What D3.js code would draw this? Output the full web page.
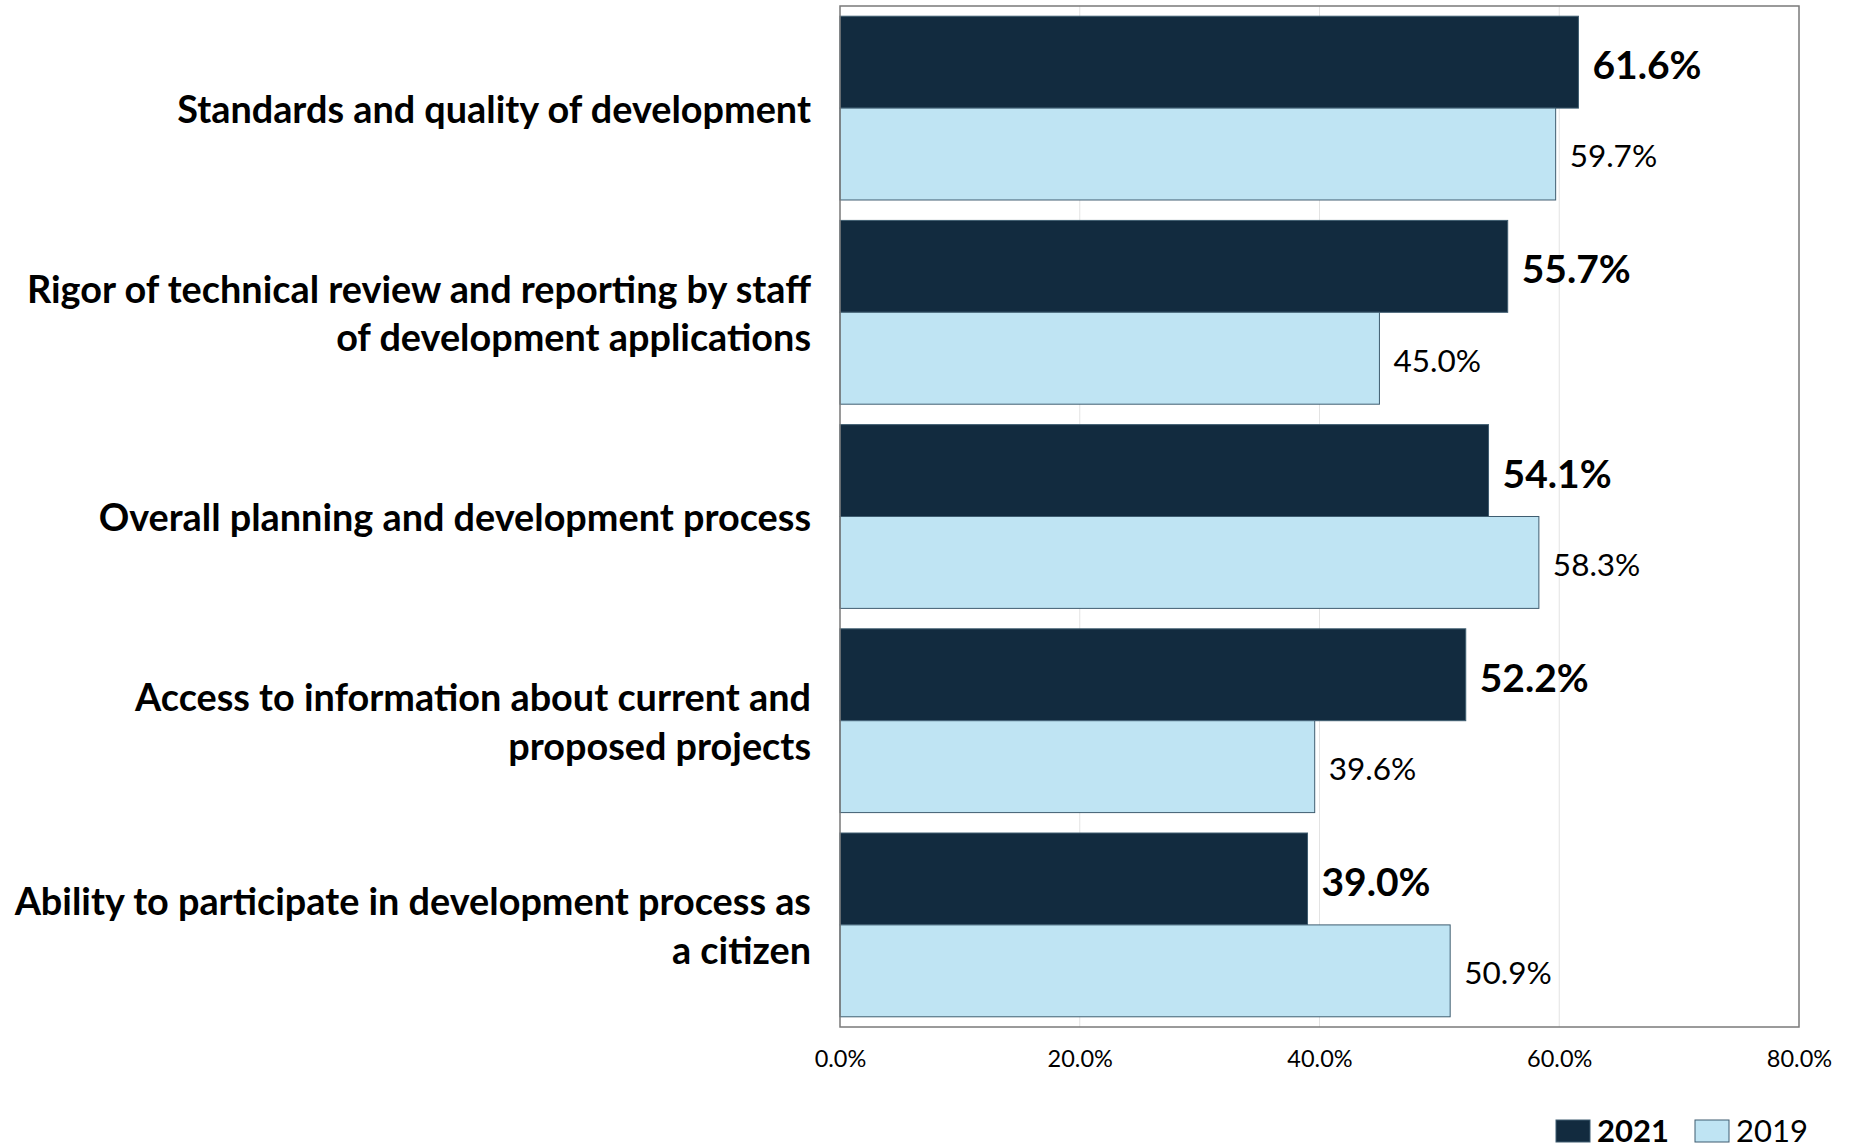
<!DOCTYPE html>
<html>
<head>
<meta charset="utf-8">
<script src="https://cdn.jsdelivr.net/npm/d3@7"></script>
<style>
  body { margin: 0; background: #fff; }
  svg { display: block; }
</style>
</head>
<body>
<div id="chart"></div>
<script>
// chart data
var categories = [
  ["Standards and quality of development"],
  ["Rigor of technical review and reporting by staff", "of development applications"],
  ["Overall planning and development process"],
  ["Access to information about current and", "proposed projects"],
  ["Ability to participate in development process as", "a citizen"]
];
var series = ["2021", "2019"];
var values2021 = [61.6, 55.7, 54.1, 52.2, 39.0];
var values2019 = [59.7, 45.0, 58.3, 39.6, 50.9];
var xTicks = [0, 20, 40, 60, 80];

var W = 1858, H = 1148;
var plotLeft = 840, plotRight = 1799, plotTop = 6, plotBottom = 1027;
var dark = "#122b3f", light = "#bfe4f3", barStroke = "#3f5d70";
var font = "Lato, 'Open Sans', sans-serif";

var svg = d3.select("#chart").append("svg")
    .attr("width", W)
    .attr("height", H);

var x = d3.scaleLinear().domain([0, 80]).range([plotLeft, plotRight]);
var y = d3.scaleBand().domain(d3.range(categories.length))
    .range([plotTop, plotBottom]).paddingInner(0.1).paddingOuter(0.05);
var ySub = d3.scaleBand().domain(series).range([0, y.bandwidth()]);

// gridlines
svg.append("g").selectAll("line")
    .data(xTicks.slice(1, -1))
    .enter().append("line")
    .attr("x1", function(d){ return x(d); })
    .attr("x2", function(d){ return x(d); })
    .attr("y1", plotTop).attr("y2", plotBottom)
    .style("stroke", "#e3e3e3")
    .style("stroke-width", 1);

var rows = categories.map(function(c, i){
  return {i: i, label: c, v2021: values2021[i], v2019: values2019[i]};
});

var group = svg.append("g").selectAll("g")
    .data(rows)
    .enter().append("g")
    .attr("transform", function(d){ return "translate(0," + y(d.i) + ")"; });

group.append("rect")
    .attr("x", x(0))
    .attr("y", ySub("2021"))
    .attr("width", function(d){ return x(d.v2021) - x(0); })
    .attr("height", ySub.bandwidth())
    .style("fill", dark)
    .style("stroke", barStroke)
    .style("stroke-width", 1);

group.append("rect")
    .attr("x", x(0))
    .attr("y", ySub("2019"))
    .attr("width", function(d){ return x(d.v2019) - x(0); })
    .attr("height", ySub.bandwidth())
    .style("fill", light)
    .style("stroke", barStroke)
    .style("stroke-width", 1);

// value labels
group.append("text")
    .attr("x", function(d){ return x(d.v2021) + 14; })
    .attr("y", ySub("2021") + ySub.bandwidth() / 2 + 3)
    .attr("dy", "0.36em")
    .style("font-family", font)
    .style("font-weight", "bold")
    .style("font-size", "39px")
    .style("fill", "#000")
    .text(function(d){ return d.v2021.toFixed(1) + "%"; });

group.append("text")
    .attr("x", function(d){ return x(d.v2019) + 14; })
    .attr("y", ySub("2019") + ySub.bandwidth() / 2 + 2)
    .attr("dy", "0.36em")
    .style("font-family", font)
    .style("font-size", "31.5px")
    .style("fill", "#000")
    .text(function(d){ return d.v2019.toFixed(1) + "%"; });

// category labels
var lineH = 48.6;
group.append("text")
    .attr("text-anchor", "end")
    .style("font-family", font)
    .style("font-weight", "bold")
    .style("font-size", "37.8px")
    .style("fill", "#000")
    .each(function(d){
      var t = d3.select(this);
      var n = d.label.length;
      d.label.forEach(function(line, k){
        t.append("tspan")
          .attr("x", 811)
          .attr("y", y.bandwidth() / 2 + 1 + (k - (n - 1) / 2) * lineH)
          .attr("dy", "0.36em")
          .text(line);
      });
    });

// plot border
svg.append("rect")
    .attr("x", plotLeft).attr("y", plotTop)
    .attr("width", plotRight - plotLeft).attr("height", plotBottom - plotTop)
    .style("fill", "none")
    .style("stroke", "#7a7a7a")
    .style("stroke-width", 1.5);

// x axis
var xAxis = d3.axisBottom(x)
    .tickValues(xTicks)
    .tickFormat(function(d){ return d.toFixed(1) + "%"; })
    .tickSize(0)
    .tickPadding(0);

var ax = svg.append("g")
    .attr("transform", "translate(0," + 1049 + ")")
    .call(xAxis);
ax.select(".domain").remove();
ax.selectAll("text")
    .attr("dy", "0.75em")
    .style("font-family", font)
    .style("font-size", "23.5px")
    .style("fill", "#000");

// legend
var legendItems = [
  {name: "2021", color: dark, x: 1556, bold: true},
  {name: "2019", color: light, x: 1695, bold: false}
];
var legend = svg.append("g").selectAll("g")
    .data(legendItems)
    .enter().append("g")
    .attr("transform", function(d){ return "translate(" + d.x + ",1120)"; });
legend.append("rect")
    .attr("width", 34).attr("height", 22)
    .style("fill", function(d){ return d.color; })
    .style("stroke", barStroke)
    .style("stroke-width", 1);
legend.append("text")
    .attr("x", 41)
    .attr("y", 22)
    .style("font-family", font)
    .style("font-weight", function(d){ return d.bold ? "bold" : "normal"; })
    .style("font-size", "31px")
    .style("fill", "#000")
    .text(function(d){ return d.name; });
</script>
</body>
</html>
